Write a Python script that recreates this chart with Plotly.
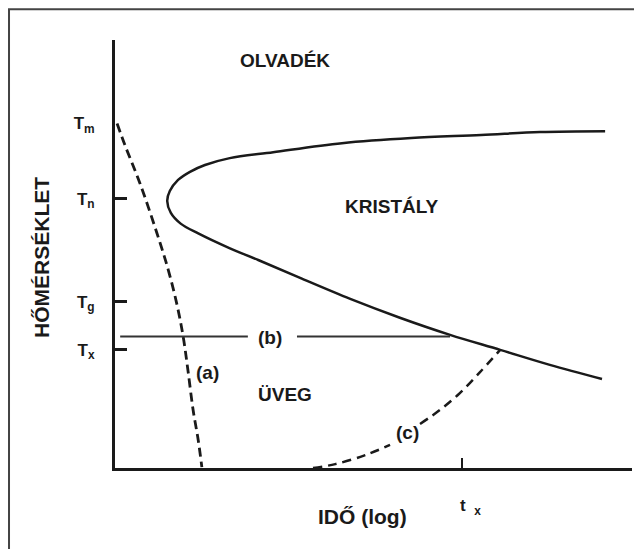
"""TTT-diagram (Hungarian labels) rebuilt with Plotly."""

import plotly.graph_objects as go

# characteristic temperatures / time (arbitrary units, log time on x)
temp_ticks = [80.5, 62.9, 38.8, 27.6]
temp_labels = ["T<sub>m</sub>", "T<sub>n</sub>", "T<sub>g</sub>", "T<sub>x</sub>"]
time_ticks = [6.71]
time_labels = ["\u2002\u2002t\u2002<sub>x</sub>"]

# crystallisation "nose" curve, from the upper right end round the nose
nose_x = [9.48, 8.22, 7.08, 5.73, 4.39, 3.06, 2.22, 1.74, 1.45, 1.22, 1.06, 1.01,
          1.08, 1.27, 1.61, 2.17, 2.77, 3.58, 4.55, 5.51, 6.48, 7.45, 8.41, 9.42]
nose_y = [78.7, 78.5, 77.8, 77.1, 75.9, 73.8, 72.4, 70.8, 69.2, 67.3, 64.7, 62.4,
          59.6, 57.1, 54.8, 51.6, 48.6, 44.4, 39.5, 35.1, 31.1, 27.6, 24.1, 20.8]

# (a) fast quench from Tm
path_a_x = [0.04, 0.19, 0.48, 0.81, 1.03, 1.20, 1.32, 1.41, 1.51, 1.61, 1.68]
path_a_y = [80.5, 75.5, 66.6, 54.9, 46.3, 38.1, 30.6, 22.9, 13.6, 6.5, 0.2]

# (b) isothermal hold (broken where the label sits)
path_b_x = [0.10, 2.57, None, 3.52, 6.48]
path_b_y = [30.7, 30.7, None, 30.7, 30.7]

# (c) reheating of the glass
path_c_x = [3.83, 4.26, 4.84, 5.32, None, 5.90, 6.29, 6.67, 7.06, 7.45]
path_c_y = [0.0, 0.9, 3.0, 5.4, None, 10.3, 13.6, 17.5, 22.4, 27.6]

FONT = "Liberation Sans, Arial, sans-serif"
INK = "#1a1a1a"

fig = go.Figure()

fig.add_trace(go.Scatter(
    x=nose_x, y=nose_y, mode="lines", line_shape="spline",
    line=dict(color=INK, width=2.5), hoverinfo="skip",
))
fig.add_trace(go.Scatter(
    x=path_a_x, y=path_a_y, mode="lines", line_shape="spline",
    line=dict(color=INK, width=2.8, dash="9px,5px"), hoverinfo="skip",
))
fig.add_trace(go.Scatter(
    x=path_b_x, y=path_b_y, mode="lines",
    line=dict(color="#333", width=2), hoverinfo="skip",
))
fig.add_trace(go.Scatter(
    x=path_c_x, y=path_c_y, mode="lines", line_shape="spline",
    line=dict(color=INK, width=2.5, dash="9px,6px"), hoverinfo="skip",
))
# invisible trace that carries the tick marks on the overlay axis
fig.add_trace(go.Scatter(x=[None], y=[None], yaxis="y2", showlegend=False))

region_labels = [
    ("OLVADÉK", 3.29, 95.3),
    ("KRISTÁLY", 5.36, 61.2),
    ("ÜVEG", 3.29, 17.1),
    ("(a)", 1.78, 22.2),
    ("(b)", 3.00, 30.6),
    ("(c)", 5.65, 8.2),
]
for text, x, y in region_labels:
    fig.add_annotation(
        x=x, y=y, text=text, showarrow=False,
        xanchor="center", yanchor="middle",
        font=dict(family=FONT, size=19, color=INK, weight="bold"),
    )

# axis titles
fig.add_annotation(
    x=-0.141, y=0.491, xref="paper", yref="paper", text="HŐMÉRSÉKLET",
    textangle=-90, showarrow=False, xanchor="center", yanchor="middle",
    font=dict(family=FONT, size=21, color=INK, weight="bold"),
)
fig.add_annotation(
    x=0.478, y=-0.114, xref="paper", yref="paper", text="IDŐ (log)",
    showarrow=False, xanchor="center", yanchor="middle",
    font=dict(family=FONT, size=21, color=INK, weight="bold"),
)

# outer frame of the figure (open to the right and bottom)
fig.add_shape(
    type="rect", xref="paper", yref="paper",
    x0=-0.205, y0=-0.4, x1=1.2, y1=1.072,
    line=dict(color="#444", width=2),
)

axis_common = dict(
    showgrid=False, zeroline=False, showline=True,
    linecolor=INK, linewidth=3,
)
# the page body adds an 8px offset, so the figure is 8px smaller than the window
fig.update_layout(
    width=634, height=541,
    margin=dict(l=107, r=10, t=32, b=81),
    paper_bgcolor="white", plot_bgcolor="white",
    showlegend=False,
    xaxis=dict(
        range=[0, 10], tickvals=time_ticks, ticktext=time_labels,
        ticks="inside", ticklen=10, tickwidth=2, tickcolor=INK,
        ticklabelstandoff=20,
        tickfont=dict(family=FONT, size=17, color=INK, weight="bold"),
        **axis_common,
    ),
    yaxis=dict(
        range=[0, 100], tickvals=temp_ticks, ticktext=temp_labels,
        ticks="", ticklabelstandoff=14,
        tickfont=dict(family=FONT, size=17, color=INK, weight="bold"),
        **axis_common,
    ),
    yaxis2=dict(
        range=[0, 100], overlaying="y", side="left",
        tickvals=temp_ticks[1:], showticklabels=False,
        ticks="inside", ticklen=12, tickwidth=2.5, tickcolor=INK,
        showgrid=False, zeroline=False, showline=False,
    ),
)

fig.write_html("out.html")
